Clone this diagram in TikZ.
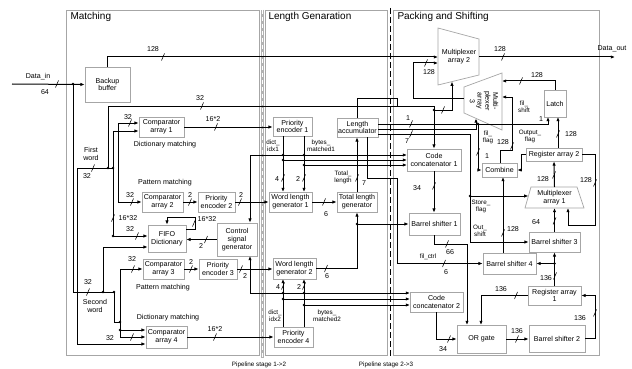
\documentclass[tikz,border=0pt]{standalone}
\usepackage{fontspec}
\setmainfont{Liberation Sans}
\usetikzlibrary{arrows.meta,calc}
\newcommand\fs{\fontsize{7.1}{7.8}\selectfont}
\newcommand\fss{\fontsize{6.3}{7}\selectfont}
\newcommand\bx[6]{\node[blk, minimum width={#4-#2}, minimum height={#5-#3}] (#1) at ({(#2+#4)/2},{(#3+#5)/2}) {#6};}
\newcommand\lab[4]{\node[lbl] (#1) at (#2,#3) {#4};}
\newcommand\slab[4]{\node[sml] (#1) at (#2,#3) {#4};}
\newcommand\busmark[2]{\draw[line width=0.55pt] ({#1-1.5},{#2+3.5}) -- ({#1+1.5},{#2-3.5});}
\newcommand\jd[2]{\fill (#1,#2) circle (1.3pt);}
\begin{document}
\begin{tikzpicture}[x=1pt,y=-1pt,line width=1pt,>={Latex[length=4.2pt,width=3.4pt]},
 blk/.style={draw=gray!70,line width=0.7pt,fill=white,align=center,inner sep=0pt,font=\fs},
 trap/.style={draw=gray!70,line width=0.7pt,fill=white},
 lbl/.style={font=\fs,inner sep=0pt,align=center},
 sml/.style={font=\fss,inner sep=0pt,align=center},
 ttl/.style={font=\fontsize{10}{12}\selectfont,anchor=north west,inner sep=0pt},
 panel/.style={draw=gray!70,line width=0.7pt}]
\useasboundingbox (0,0) rectangle (632,369);
\fill[white] (0,0) rectangle (632,369);
% panels
\draw[panel] (66,10) rectangle (259,355);
\draw[panel] (265,10) rectangle (387,355);
\draw[panel] (393,10) rectangle (599,355);
\node[ttl] (tm) at (70,12) {Matching};
\node[ttl] (tg) at (268,12) {Length Genaration};
\node[ttl] (tp) at (397,12) {Packing and Shifting};
% pipeline separators
\draw[gray!60,line width=3pt] (262,10) -- (262,358);
\draw[white,line width=1pt,dash pattern=on 4pt off 3pt] (262,10) -- (262,358);
\draw[line width=0.8pt,dash pattern=on 6pt off 3pt] (390,8) -- (390,358);
\slab{p12}{259}{365}{Pipeline stage 1->2}
\slab{p23}{386}{365}{Pipeline stage 2->3}

% ---------- boxes ----------
\bx{bb}{85}{67}{130}{102}{Backup\\buffer}
\bx{c1}{139}{117}{184}{137}{Comparator\\array 1}
\bx{c2}{142}{192}{183}{212}{Comparator\\array 2}
\bx{pe2}{198}{192}{235}{212}{Priority\\encoder 2}
\bx{fifo}{148}{225}{186}{252}{FIFO\\Dictionary}
\bx{csg}{217}{223}{257}{256}{Control\\signal\\generator}
\bx{c3}{143}{259}{184}{279}{Comparator\\array 3}
\bx{pe3}{199}{259}{237}{279}{Priority\\encoder 3}
\bx{c4}{146}{326}{187}{348}{Comparator\\array 4}
\bx{pe1}{273}{117}{312}{136}{Priority\\encoder 1}
\bx{la}{337}{118}{378}{137}{Length\\accumulator}
\bx{wl1}{269}{192}{312}{212}{Word length\\generator 1}
\bx{tl}{337}{192}{377}{212}{Total length\\generator}
\bx{wl2}{273}{258}{316}{279}{Word length\\generator 2}
\bx{pe4}{274}{327}{313}{347}{Priority\\encoder 4}
\bx{cc1}{407}{149}{461}{171}{Code\\concatenator 1}
\bx{bs1}{409}{213}{460}{235}{Barrel shifter 1}
\bx{cc2}{410}{292}{463}{312}{Code\\concatenator 2}
\bx{org}{457}{325}{506}{353}{OR gate}
\bx{bs2}{529}{325}{585}{352}{Barrel shifter 2}
\bx{ra1}{528}{286}{581}{305}{Register array\\1}
\bx{bs4}{483}{253}{536}{274}{Barrel shifter 4}
\bx{bs3}{529}{232}{580}{252}{Barrel shifter 3}
\bx{cmb}{482}{163}{517}{177}{Combine}
\bx{ra2}{526}{148}{582}{161}{Register array 2}
\bx{lat}{544}{90}{566}{117}{Latch}
% multiplexers
\draw[trap] (438,28) -- (479,39) -- (479,75) -- (438,85) -- cycle;
\node[lbl] (mx2) at (459,57) {Multiplexer\\array 2};
\draw[trap] (464,87) -- (502,73) -- (502,130) -- (464,113) -- cycle;
\node[lbl,rotate=-90] (mx3) at (484,101) {Multi-\\plexer\\array\\3};
\draw[trap] (531,187) -- (577,187) -- (584,208) -- (525,208) -- cycle;
\node[lbl] (mx1) at (554.5,197.5) {Multiplexer\\array 1};

% ---------- Matching ----------
\coordinate (din) at (12,84);
\draw[->] (din) -- (bb.west);
\lab{ldin}{38}{77}{Data\_in}
\lab{l64}{45}{92}{64}
\busmark{57}{84}
\draw (73,84) -- (73,292) -- (114,292);
\jd{73}{84}
\draw (77,344) -- (77,168) -- (113,168);
\draw (108,106) -- (108,168);
\jd{108}{168}
\draw (113,131) -- (113,236);
\jd{113}{168}
\draw (118,123) -- (118,202);
\draw[->] (118,123) -- (118,123 -| c1.west);
\draw[->] (113,131) -- (113,131 -| c1.west);
\lab{l32a}{128}{117}{32}
\busmark{130}{123}
\draw[->] (118,202) -- (c2.west);
\lab{l32b}{130}{195}{32}
\busmark{132}{202}
\lab{lfw}{91}{154}{First\\word}
\lab{l32c}{87}{176}{32}
\busmark{93}{168}
\lab{ldm1}{165}{145}{Dictionary matching}
\lab{lpm1}{165}{183}{Pattern matching}
% FIFO
\draw[->] (113,236) -- (113,236 -| fifo.west);
\jd{113}{236}
\draw (103,292) -- (103,247);
\draw[->] (103,247) -- (103,247 -| fifo.west);
\jd{103}{292}
\lab{l32d}{130}{229}{32}
\busmark{137}{236}
\lab{l1632a}{128}{218}{16*32}
\busmark{113}{218}
\draw[->] (186,229) -| (195,217) -| (fifo.north);
\lab{l1632b}{207}{219}{16*32}
\busmark{194}{223}
\draw[->] (csg.west) -- (csg.west -| fifo.east);
\lab{l2a}{201}{246}{2}
\busmark{206}{239.5}
% comparator chain
\draw[->] (c1.east) -- (c1.east -| pe1.west);
\lab{l162a}{213}{119}{16*2}
\busmark{216}{127}
\draw[->] (c2.east) -- (pe2.west);
\lab{l2b}{190}{195}{2}
\busmark{190}{202}
\draw[->] (pe2.east) -- (pe2.east -| wl1.west);
\lab{l2c}{241}{195}{2}
\busmark{240}{202}
\draw[->] (c3.east) -- (pe3.west);
\lab{l2d}{191}{262}{2}
\busmark{191}{269}
\draw[->] (pe3.east) -- (pe3.east -| wl2.west);
\lab{l2e}{245}{276}{2}
\busmark{241}{269}
\draw[->] (c4.east) -- (c4.east -| pe4.west);
\lab{l162b}{215}{329}{16*2}
\busmark{215}{337}
% second word
\lab{l32e}{88}{282}{32}
\busmark{88}{292}
\lab{lsw}{95}{306}{Second\\word}
\draw (114,292) -- (114,322) -- (120,322);
\jd{114}{292}
\draw (120,269) -- (120,337);
\jd{120}{322}
\draw[->] (120,269) -- (c3.west);
\lab{l32f}{132}{259}{32}
\busmark{133}{269}
\draw[->] (120,330) -- (120,330 -| c4.west);
\jd{120}{330}
\draw[->] (120,337) -- (c4.west);
\draw[->] (77,344) -- (77,344 -| c4.west);
\lab{l32g}{110}{338}{32}
\busmark{132}{337}
\lab{lpm2}{163}{288}{Pattern matching}
\lab{ldm2}{168}{318}{Dictionary matching}

% ---------- Length generation ----------
\draw[->] (283,136) -- (283,192);
\draw[->] (304,136) -- (304,192);
\draw[->] (250,155) -- (250,155 |- csg.north);
\draw[->] (250,155) -- (407,155);
\draw[->] (283,160) -- (407,160);
\draw[->] (304,165) -- (407,165);
\jd{283}{155}\jd{283}{160}\jd{304}{155}\jd{304}{165}
\slab{ldi1}{273}{146}{dict\_\\idx1}
\slab{lbm1}{321}{146}{bytes\_\\matched1}
\lab{l4a}{277}{179}{4}
\busmark{283}{178}
\lab{l2f}{298}{179}{2}
\busmark{304}{178}
\draw[->] (wl1.east) -- (wl1.east -| tl.west);
\lab{l6a}{326}{214}{6}
\busmark{324}{202}
\draw[->] (tl.north) -- (tl.north |- la.south);
\slab{ltot}{343}{177}{Total\_\\length}
\lab{l7a}{364}{183}{7}
\busmark{357}{178}
\draw[->] (wl2.east) -| (tl.south);
\lab{l6b}{327}{276}{6}
\busmark{326}{268.5}
\draw[->] (357,224) -- (bs1.west);
\jd{357}{224}
\draw[->] (283,327) -- (283,279);
\draw[->] (304,327) -- (304,279);
\draw[->] (250,293) -- (250,256);
\draw[->] (250,293) -- (410,293);
\draw[->] (283,299) -- (410,299);
\draw[->] (304,305) -- (410,305);
\jd{283}{293}\jd{283}{299}\jd{304}{293}\jd{304}{305}
\lab{l4b}{278}{287}{4}
\busmark{283}{286}
\lab{l2g}{299}{287}{2}
\busmark{304}{286}
\slab{ldi2}{275}{316}{dict\_\\idx2}
\slab{lbm2}{327}{316}{bytes\_\\matched2}
% LA feedback / top bus
\draw (la.north) |- (397,98) -- (397,106);
\draw[->] (108,106) -| (cc1.north);
\lab{l32h}{200}{98}{32}
\busmark{202}{106}
\jd{434}{110}
\draw[->] (434,110) -| (452,81.6);
\busmark{443}{110}

% ---------- Packing ----------
\draw[->] (bb.north) |- (438,57);
\lab{l128a}{153}{49}{128}
\busmark{163}{57}
\coordinate (dout) at (615,57);
\draw[->] (479,57) -- (dout);
\lab{l128b}{500}{49}{128}
\busmark{503}{57}
\lab{ldout}{612}{49}{Data\_out}
\draw[->] (464,98) -| (413,63) -- (438,63);
\lab{l128c}{429}{72}{128}
\busmark{426}{63}
% LA outputs
\draw[->] (378,124) -| (548,117);
\lab{l1a}{408}{118}{1}
\busmark{411}{124}
\draw[->] (378,129) -| (476,118.4);
\draw (378,134) -| (470,242);
\lab{l7b}{407}{141}{7}
\busmark{411}{134}
\draw[->] (470,196) -- (528.4,196);
\jd{470}{196}
\draw[->] (470,242) -- (bs3.west);
\slab{lsf}{481}{206}{Store\_\\flag}
\slab{los}{480}{231}{Out\_\\shift}
\draw[->] (478,124) |- (cmb.west);
\jd{478}{124}
\slab{lff}{488}{137}{fil\_\\flag}
\lab{l1b}{487}{156}{1}
\busmark{478}{152}
\draw[->] (367,137) |- (397,178) |- (bs4.west);
\slab{lfc}{428}{257}{fil\_ctrl}
\lab{l6c}{446}{272}{6}
\busmark{444}{263.5}
% code concat / barrel shifters
\draw[->] (cc1.south) -- (cc1.south |- bs1.north);
\lab{l34a}{417}{188}{34}
\busmark{434}{186}
\draw[->] (bs1.south) |- (467,244) -- (467,325);
\lab{l66}{450}{252}{66}
\busmark{447}{244}
\draw[->] (cc2.south) |- (org.west);
\lab{l34b}{443}{349}{34}
\busmark{449}{339}
\draw[->] (org.east) -- (org.east -| bs2.west);
\lab{l136a}{517}{331}{136}
\busmark{517}{339}
\draw[->] (bs2.east) -- ++(10,0) |- (ra1.east);
\lab{l136b}{580}{318}{136}
\busmark{595}{313}
\draw[->] (ra1.west) -| (481,325);
\lab{l136c}{501}{289}{136}
\busmark{516}{295.5}
\draw[->] (ra1.north) -- (ra1.north |- bs3.south);
\draw[->] (554.5,263.5) -- (bs4.east);
\jd{554.5}{263.5}
\lab{l136d}{546}{278}{136}
\busmark{555}{276}
\draw[->] (503,253) -- (503,177);
\lab{l128d}{513}{229}{128}
\busmark{503}{233}
\draw[->] (bs3.north) -- (554.5,208);
\lab{l64b}{536}{222}{64}
\busmark{554.5}{221}
\draw[->] (554.5,187) -- (ra2.south);
\lab{l128e}{543}{179}{128}
\busmark{554}{175}
\draw[->] (ra2.east) -| (595,225) -| (568,208);
\lab{l128f}{586}{180}{128}
\busmark{595}{183}
\draw[->] (ra2.west) -- ++(-4,0) |- (cmb.east);
\draw[->] (558,148) -- (558,117);
\lab{l128g}{571}{134}{128}
\busmark{558}{134}
\slab{lof}{530}{136}{Output\_\\flag}
\lab{l1c}{541}{119}{1}
\draw[->] (lat.north) |- (502,81);
\lab{l128h}{537}{75}{128}
\busmark{521}{81}
\draw[->] (500,163) |- (512,150) |- (502,97);
\lab{l128i}{503}{142}{128}
\busmark{512}{146}
\slab{lfs}{524}{107}{fil\_\\shift}
\end{tikzpicture}
\end{document}
